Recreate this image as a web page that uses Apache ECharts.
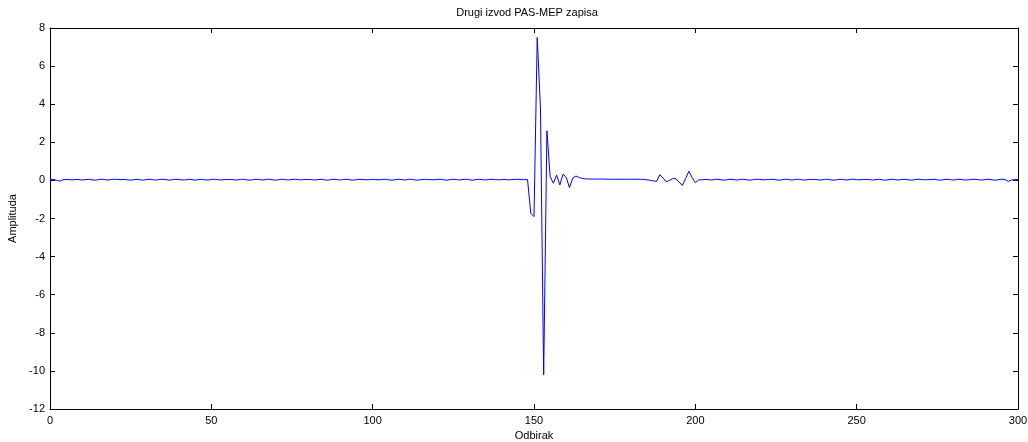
<!DOCTYPE html>
<html>
<head>
<meta charset="utf-8">
<script src="https://cdn.jsdelivr.net/npm/echarts@6/dist/echarts.min.js"></script>
<style>
  html, body { margin: 0; padding: 0; background: #fff; }
  #chart { width: 1028px; height: 442px; }
</style>
</head>
<body>
<div id="chart"></div>
<script>
// Second derivative of the PAS-MEP recording, one value per sample (samples 0..300)
const baselineBefore = [
  0.06, 0.05, 0.01, -0.04, 0.03, 0.05, 0.04, 0.03, 0.05, 0.04,
  0.02, 0.04, 0.06, 0.03, 0.01, 0.04, 0.06, 0.04, 0.02, 0.05,
  0.06, 0.05, 0.04, 0.05, 0.03, 0.01, 0.04, 0.06, 0.03, 0.01,
  0.05, 0.06, 0.03, 0.02, 0.05, 0.06, 0.04, 0.01, 0.04, 0.06,
  0.05, 0.02, 0.03, 0.06, 0.04, 0.01, 0.04, 0.06, 0.03, 0.02,
  0.05, 0.06, 0.04, 0.02, 0.04, 0.05, 0.05, 0.03, 0.02, 0.05,
  0.06, 0.03, 0.01, 0.04, 0.06, 0.04, 0.02, 0.05, 0.06, 0.03,
  0.01, 0.04, 0.06, 0.04, 0.02, 0.05, 0.06, 0.04, 0.03, 0.05,
  0.05, 0.04, 0.02, 0.04, 0.06, 0.03, 0.01, 0.04, 0.06, 0.04,
  0.02, 0.05, 0.06, 0.03, 0.01, 0.04, 0.06, 0.05, 0.03, 0.04,
  0.05, 0.04, 0.03, 0.05, 0.06, 0.03, 0.01, 0.04, 0.06, 0.04,
  0.02, 0.05, 0.06, 0.03, 0.01, 0.04, 0.05, 0.05, 0.04, 0.03,
  0.05, 0.06, 0.03, 0.01, 0.04, 0.06, 0.04, 0.02, 0.05, 0.06,
  0.03, 0.01, 0.04, 0.06, 0.04, 0.02, 0.05, 0.06, 0.04, 0.03,
  0.04, 0.05, 0.03, 0.04, 0.05, 0.06, 0.04, 0.04, 0.04
];
// samples 149..166: the main response
const mainResponse = [
  -1.73, -1.9, 7.5, 3.8, -10.2, 2.6, 0.2, -0.15, 0.28, -0.24,
  0.33, 0.15, -0.38, 0.12, 0.23, 0.15, 0.1, 0.08
];
// samples 167..188: quiet stretch after the response
const quietStretch = [
  0.07, 0.07, 0.07, 0.07, 0.07, 0.07, 0.06, 0.06, 0.06, 0.06,
  0.06, 0.06, 0.06, 0.06, 0.06, 0.06, 0.06, 0.05, 0.03, 0.01,
  -0.03, -0.05
];
// samples 189..201: late small wave
const lateWave = [
  0.3, 0.12, -0.07, 0.0, 0.1, 0.08, -0.1, -0.26, 0.1, 0.48,
  0.15, -0.12, 0.02
];
// samples 202..300
const baselineAfter = [
  0.03, 0.05, 0.04, 0.02, 0.05, 0.06, 0.03, 0.01,
  0.04, 0.06, 0.04, 0.02, 0.05, 0.06, 0.03, 0.01, 0.04, 0.06,
  0.05, 0.03, 0.04, 0.05, 0.06, 0.03, 0.01, 0.04, 0.06, 0.04,
  0.02, 0.05, 0.06, 0.03, 0.02, 0.04, 0.05, 0.05, 0.03, 0.02,
  0.05, 0.06, 0.03, 0.01, 0.04, 0.06, 0.04, 0.02, 0.05, 0.06,
  0.04, 0.03, 0.05, 0.05, 0.04, 0.02, 0.04, 0.06, 0.03, 0.01,
  0.04, 0.06, 0.04, 0.02, 0.05, 0.06, 0.03, 0.01, 0.04, 0.06,
  0.05, 0.03, 0.04, 0.05, 0.06, 0.03, 0.01, 0.04, 0.06, 0.04,
  0.02, 0.05, 0.06, 0.03, 0.02, 0.04, 0.06, 0.05, 0.03, 0.02,
  0.05, 0.06, 0.03, 0.01, 0.04, 0.06, 0.04, -0.05, 0.02, 0.04,
  0.04
];

const xTicks = { min: 0, max: 300, step: 50 };
const yTicks = { min: -12, max: 8, step: 2 };

const amplitude = [].concat(baselineBefore, mainResponse, quietStretch, lateWave, baselineAfter);
const points = amplitude.map((v, i) => [i, v]);

const font = 'Liberation Sans, Arial, Helvetica, sans-serif';
const axisLine = { show: true, onZero: false, lineStyle: { color: '#000', width: 1 } };
const tick = { show: true, inside: true, length: 5, lineStyle: { color: '#000', width: 1 } };
const label = { color: '#000', fontFamily: font, fontSize: 11 };

const chart = echarts.init(document.getElementById('chart'), null, { renderer: 'canvas' });
chart.setOption({
  animation: false,
  backgroundColor: '#fff',
  grid: {
    left: 50, right: 10, top: 28, bottom: 33,
    containLabel: false, outerBoundsMode: 'none'
  },
  graphic: [{
    type: 'text', x: 527, y: 13,
    style: {
      text: 'Drugi izvod PAS-MEP zapisa', fill: '#000',
      font: '11px ' + font, textAlign: 'center', textVerticalAlign: 'middle'
    }
  }],
  xAxis: [{
    type: 'value', min: xTicks.min, max: xTicks.max, interval: xTicks.step,
    position: 'bottom',
    name: 'Odbirak', nameLocation: 'middle', nameGap: 21,
    nameTextStyle: label,
    axisLine, axisTick: tick,
    axisLabel: Object.assign({ margin: 6 }, label),
    splitLine: { show: false }
  }, {
    type: 'value', min: xTicks.min, max: xTicks.max, interval: xTicks.step,
    position: 'top',
    axisLine, axisTick: tick, axisLabel: { show: false },
    splitLine: { show: false }
  }],
  yAxis: [{
    type: 'value', min: yTicks.min, max: yTicks.max, interval: yTicks.step,
    position: 'left',
    name: 'Amplituda', nameLocation: 'middle', nameGap: 31,
    nameTextStyle: label,
    axisLine, axisTick: tick,
    axisLabel: Object.assign({ margin: 5 }, label),
    splitLine: { show: false }
  }, {
    type: 'value', min: yTicks.min, max: yTicks.max, interval: yTicks.step,
    position: 'right',
    axisLine, axisTick: tick, axisLabel: { show: false },
    splitLine: { show: false }
  }],
  series: [{
    type: 'line',
    data: points,
    xAxisIndex: 0, yAxisIndex: 0,
    showSymbol: false,
    lineStyle: { color: '#0000ff', width: 1 },
    itemStyle: { color: '#0000ff' }
  }]
});
</script>
</body>
</html>
